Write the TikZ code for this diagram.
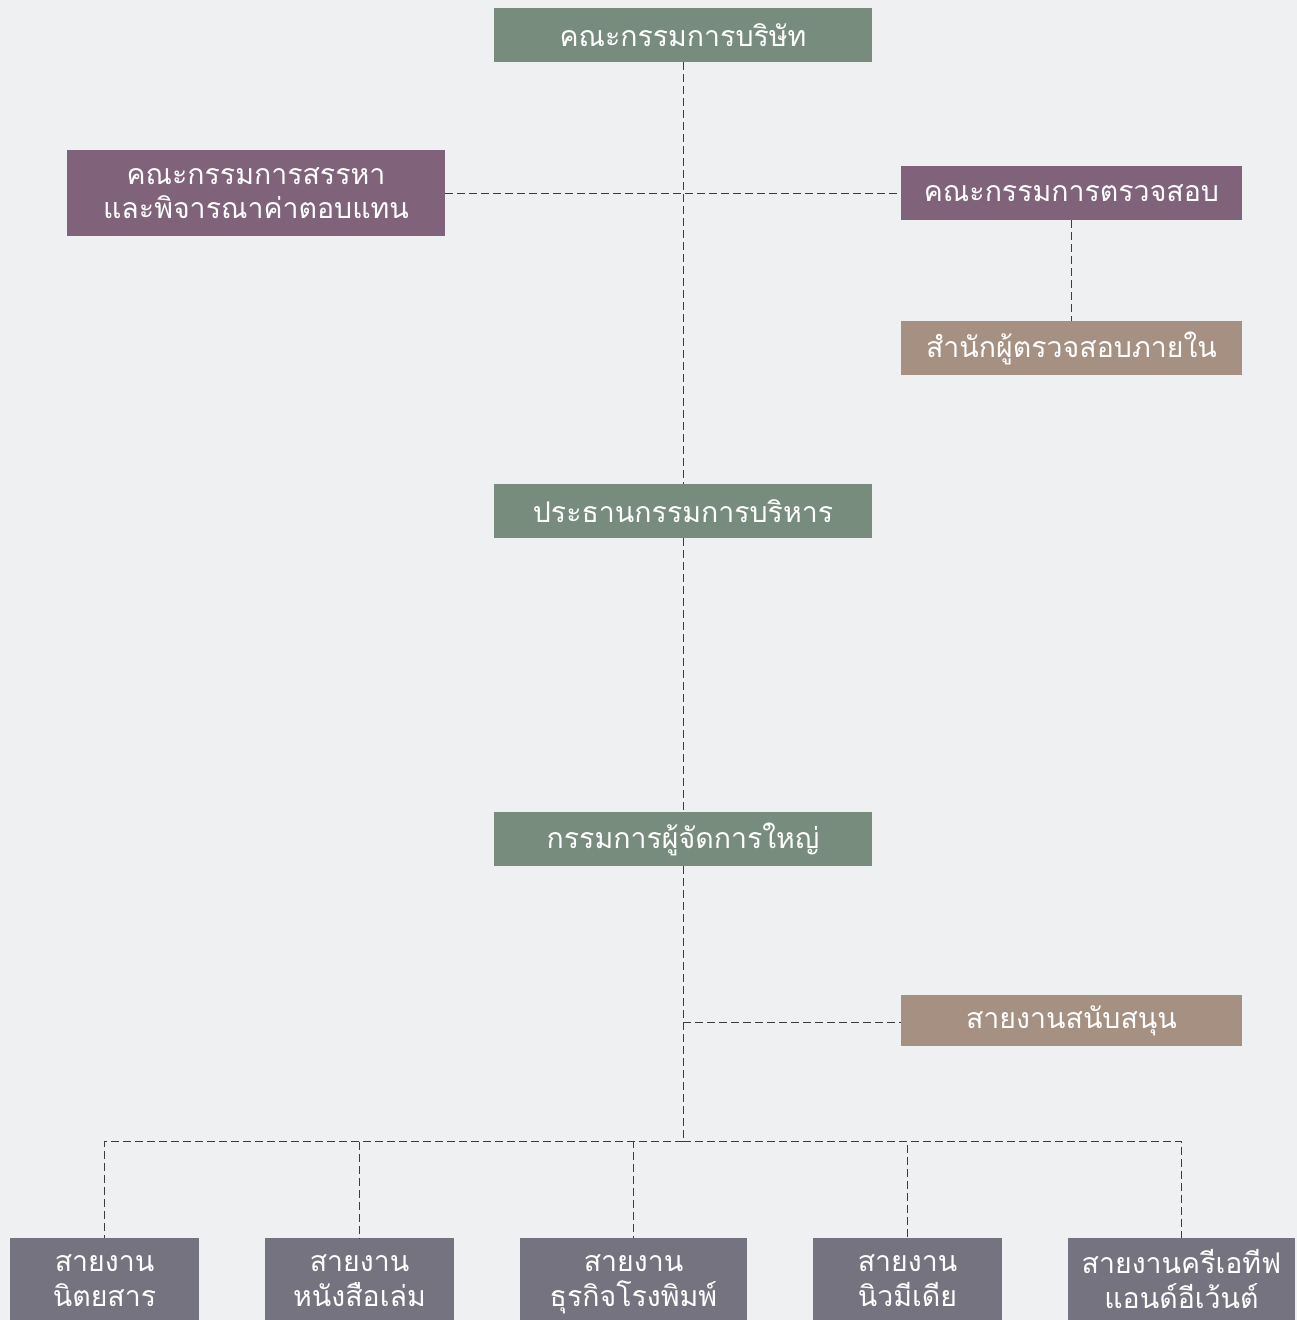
\documentclass[tikz,border=0pt]{standalone}
\usepackage{fontspec}
\newfontfamily\thaifont[Script=Thai]{Loma}
\definecolor{bgcol}{HTML}{EFF0F2}
\definecolor{boardgreen}{HTML}{788C7E}
\definecolor{compurple}{HTML}{80637A}
\definecolor{unittan}{HTML}{A69082}
\definecolor{linegray}{HTML}{75737F}
\definecolor{wirecol}{HTML}{3C3C3C}
\begin{document}
\begin{tikzpicture}[x=1pt,y=-1pt,
    box/.style={rectangle,inner sep=0pt,text=white,align=center,
      font=\thaifont\fontsize{28.5}{34}\selectfont},
    wide/.style={box,minimum width=378pt,minimum height=54pt},
    side/.style={box,minimum width=341pt,minimum height=54pt},
    wire/.style={draw=wirecol,line width=1pt,dash pattern=on 8pt off 4pt}]

      \fill[bgcol] (0,0) rectangle (1297,1320);
      \useasboundingbox (0,0) rectangle (1297,1320);

      \begin{scope}
        \node[wide,fill=boardgreen] (board) at (683,35) {คณะกรรมการบริษัท};
        \node[wide,fill=compurple,minimum height=86pt] (nom) at (256,193)
          {คณะกรรมการสรรหา\\และพิจารณาค่าตอบแทน};
        \node[side,fill=compurple] (audit) at (1071.5,193) {คณะกรรมการตรวจสอบ};
        \node[side,fill=unittan] (inaudit) at (1071.5,348) {สำนักผู้ตรวจสอบภายใน};
        \node[wide,fill=boardgreen] (exec) at (683,511) {ประธานกรรมการบริหาร};
        \node[wide,fill=boardgreen] (ceo) at (683,839) {กรรมการผู้จัดการใหญ่};
        \node[side,fill=unittan,minimum height=51pt] (support) at (1071.5,1020.5) {สายงานสนับสนุน};
      \end{scope}

      \begin{scope}[every node/.style={box,fill=linegray,anchor=north,
          minimum height=92pt}]
        \node[minimum width=189pt] (mag)   at (104.5,1238)  {};
        \node[minimum width=189pt] (book)  at (359.5,1238)  {};
        \node[minimum width=227pt] (print) at (633.5,1238)  {};
        \node[minimum width=189pt] (media) at (907.5,1238)  {};
        \node[minimum width=227pt] (event) at (1181.5,1238) {};
      \end{scope}

      \begin{scope}[every node/.style={box,font=\thaifont\fontsize{28.5}{35}\selectfont}]
        \node (magtext)   at (104.5,1281)  {สายงาน\\นิตยสาร};
        \node (booktext)  at (359.5,1281)  {สายงาน\\หนังสือเล่ม};
        \node (printtext) at (633.5,1284)  {สายงาน\\ธุรกิจโรงพิมพ์};
        \node (mediatext) at (907.5,1281)  {สายงาน\\นิวมีเดีย};
        \node (eventtext) at (1181.5,1279) {สายงานครีเอทีฟ\\แอนด์อีเว้นต์};
      \end{scope}

      \coordinate (split) at (683,1141);
      \coordinate (tap)   at (683,1022);

      \begin{scope}[every path/.style={wire}]
        \path (board)   edge (exec);
        \path (nom)     edge (audit);
        \path (audit)   edge (inaudit);
        \path (exec)    edge (ceo);
        \path (ceo.south) edge (split);
        \path (tap)     edge (support.west |- tap);
        \draw (split) -| (mag.north);
        \draw (split) -| (book.north);
        \draw (split) -| (print.north);
        \draw (split) -| (media.north);
        \draw (split) -| (event.north);
      \end{scope}

    \end{tikzpicture}
\end{document}
